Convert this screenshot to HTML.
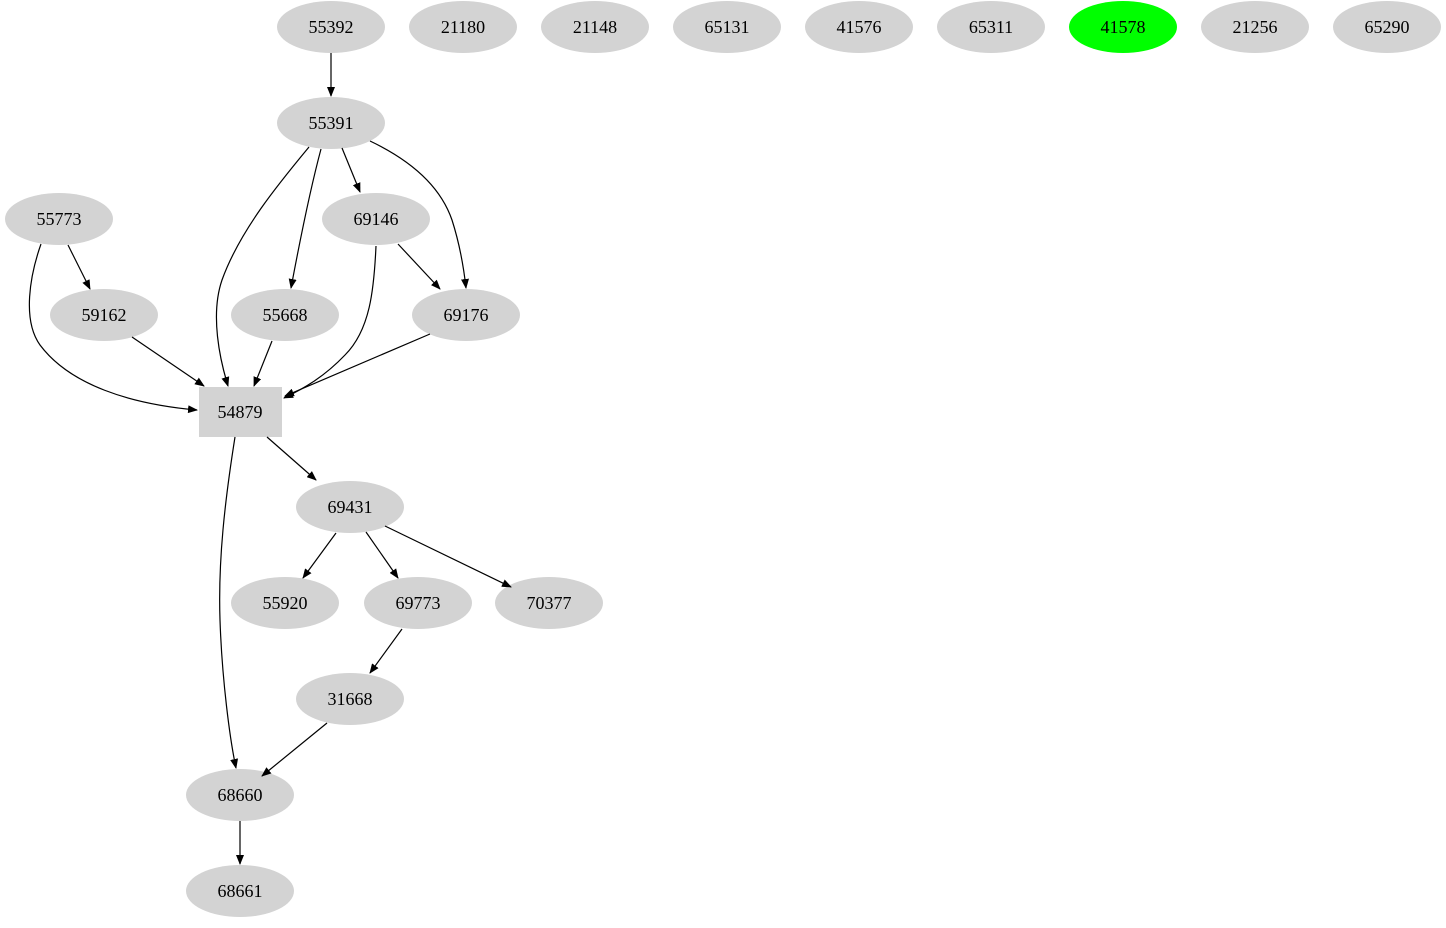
<!DOCTYPE html>
<html><head><style>body{margin:0;background:#fff}</style></head><body>
<svg width="1446" height="923" viewBox="0 0 1446 923" xmlns="http://www.w3.org/2000/svg" font-family="Liberation Serif, serif" font-size="18">
<defs><marker id="a" markerWidth="10" markerHeight="8" refX="9" refY="4" orient="auto" markerUnits="userSpaceOnUse"><path d="M0,0L10,4L0,8z" fill="#000"/></marker></defs>
<g fill="#d3d3d3">
<ellipse cx="331" cy="27" rx="54" ry="26"/><ellipse cx="463" cy="27" rx="54" ry="26"/><ellipse cx="595" cy="27" rx="54" ry="26"/><ellipse cx="727" cy="27" rx="54" ry="26"/><ellipse cx="859" cy="27" rx="54" ry="26"/><ellipse cx="991" cy="27" rx="54" ry="26"/><ellipse cx="1123" cy="27" rx="54" ry="26" fill="#00ff00"/><ellipse cx="1255" cy="27" rx="54" ry="26"/><ellipse cx="1387" cy="27" rx="54" ry="26"/>
<ellipse cx="331" cy="123" rx="54" ry="26"/><ellipse cx="59" cy="219" rx="54" ry="26"/><ellipse cx="376" cy="219" rx="54" ry="26"/>
<ellipse cx="104" cy="315" rx="54" ry="26"/><ellipse cx="285" cy="315" rx="54" ry="26"/><ellipse cx="466" cy="315" rx="54" ry="26"/>
<rect x="199" y="387" width="83" height="50"/>
<ellipse cx="350" cy="507" rx="54" ry="26"/><ellipse cx="285" cy="603" rx="54" ry="26"/><ellipse cx="418" cy="603" rx="54" ry="26"/><ellipse cx="549" cy="603" rx="54" ry="26"/>
<ellipse cx="350" cy="699" rx="54" ry="26"/><ellipse cx="240" cy="795" rx="54" ry="26"/><ellipse cx="240" cy="891" rx="54" ry="26"/>
</g>
<g fill="none" stroke="#000" stroke-width="1.2" marker-end="url(#a)">
<path d="M331,53V96"/>
<path d="M309,147C280,182 240,230 222,280C210,315 220,360 228,386"/>
<path d="M321,149C310,190 300,240 291,288"/>
<path d="M342,148L360,192"/>
<path d="M370,141C410,160 440,185 452,220C460,245 464,270 466,288"/>
<path d="M68,245L90,289"/>
<path d="M41,244C30,275 22,320 40,345C70,385 130,404 197,410"/>
<path d="M398,244L440,289"/>
<path d="M376,246C374,290 370,330 345,355C325,376 305,388 284,398"/>
<path d="M132,337L204,386"/>
<path d="M272,341L254,386"/>
<path d="M430,334L285,396"/>
<path d="M267,437L316,480"/>
<path d="M235,437C225,500 218,560 220,620C222,680 230,740 236,768"/>
<path d="M336,533L303,578"/>
<path d="M366,532L398,578"/>
<path d="M385,526L511,587"/>
<path d="M402,629L370,673"/>
<path d="M327,723L262,776"/>
<path d="M240,821V864"/>
</g>
<g text-anchor="middle" fill="#000">
<text x="331" y="33">55392</text><text x="463" y="33">21180</text><text x="595" y="33">21148</text><text x="727" y="33">65131</text><text x="859" y="33">41576</text><text x="991" y="33">65311</text><text x="1123" y="33">41578</text><text x="1255" y="33">21256</text><text x="1387" y="33">65290</text>
<text x="331" y="129">55391</text><text x="59" y="225">55773</text><text x="376" y="225">69146</text>
<text x="104" y="321">59162</text><text x="285" y="321">55668</text><text x="466" y="321">69176</text>
<text x="240" y="418">54879</text><text x="350" y="513">69431</text>
<text x="285" y="609">55920</text><text x="418" y="609">69773</text><text x="549" y="609">70377</text>
<text x="350" y="705">31668</text><text x="240" y="801">68660</text><text x="240" y="897">68661</text>
</g>
</svg>
</body></html>
